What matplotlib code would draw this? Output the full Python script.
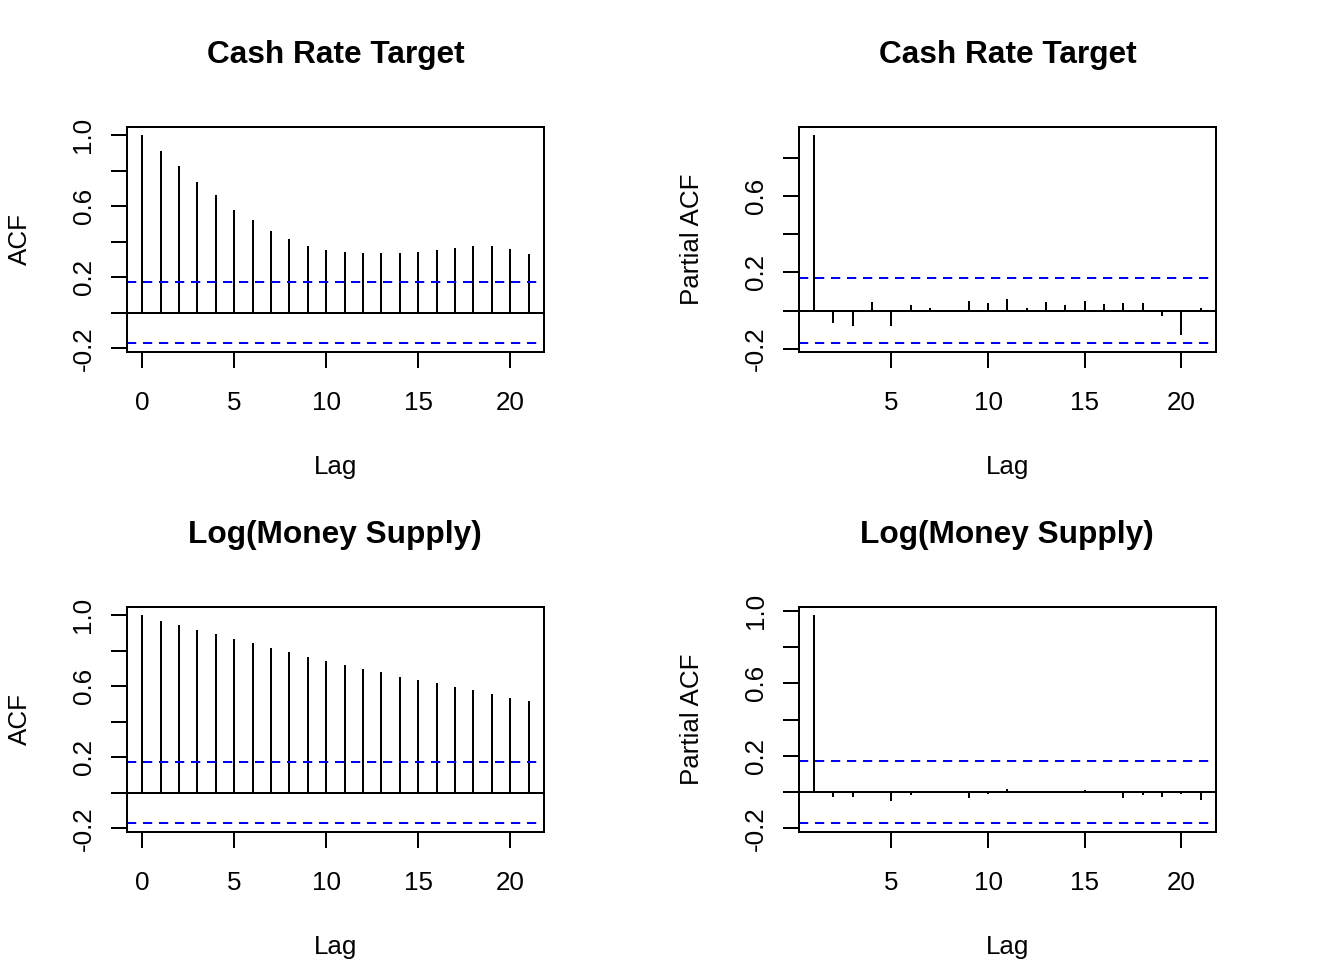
import numpy as np
import matplotlib
matplotlib.use("Agg")
import matplotlib.pyplot as plt

plt.rcParams["font.family"] = ["Liberation Sans", "DejaVu Sans"]

# --- Data ---
acf_lags = np.arange(0, 22)
pacf_lags = np.arange(1, 22)

cash_acf = [1.000, 0.912, 0.828, 0.738, 0.660, 0.581, 0.520, 0.458, 0.413, 0.374, 0.351,
            0.340, 0.335, 0.335, 0.335, 0.340, 0.351, 0.363, 0.374, 0.374, 0.357, 0.329]
cash_pacf = [0.920, -0.063, -0.079, 0.045, -0.079, 0.030, 0.014, 0.002, 0.051, 0.040, 0.061,
             0.014, 0.045, 0.030, 0.051, 0.035, 0.040, 0.040, -0.028, -0.126, 0.014]

money_acf = [1.000, 0.968, 0.946, 0.918, 0.895, 0.867, 0.845, 0.817, 0.794, 0.766, 0.744,
             0.721, 0.699, 0.677, 0.654, 0.632, 0.615, 0.593, 0.576, 0.553, 0.536, 0.514]
money_pacf = [0.976, -0.029, -0.029, 0.001, -0.051, -0.015, 0.001, -0.001, -0.033, -0.011, 0.020,
              0.001, -0.001, 0.001, 0.013, 0.007, -0.033, -0.018, -0.029, -0.011, -0.044]

conf_limit = 0.172

titles = ["Cash Rate Target", "Cash Rate Target", "Log(Money Supply)", "Log(Money Supply)"]
ylabels = ["ACF", "Partial ACF", "ACF", "Partial ACF"]

DPI = 144
W, H = 1344, 960
FS = 13.0
FS_TITLE = 15.8


def pad_range(lo, hi):
    # same 4% stretch as R's default axis range
    d = (hi - lo) * 0.04
    return lo - d, hi + d


def acf_panel(ax, lags, vals, title, ylabel):
    vals = np.asarray(vals)
    ax.vlines(lags, 0, vals, color="black", lw=1.0)
    ax.axhline(0, color="black", lw=1.0)
    for c in (conf_limit, -conf_limit):
        ax.axhline(c, color="blue", lw=1.0, ls=(0, (4.6, 3.4)))

    ax.set_xlim(*pad_range(lags.min(), lags.max()))
    ymin = min(vals.min(), -conf_limit)
    ymax = max(vals.max(), conf_limit)
    y0, y1 = pad_range(ymin, ymax)
    ax.set_ylim(y0, y1)

    xt = [t for t in range(0, 21, 5) if t >= lags.min()]
    ax.set_xticks(xt)
    ax.set_xticklabels([str(t) for t in xt])
    yt = np.round(np.arange(-0.2, y1 + 1e-9, 0.2), 1)
    ax.set_yticks(yt)
    # R drops every other label where they would overlap
    ax.set_yticklabels([f"{t:.1f}" if round(t * 10) in (-2, 2, 6, 10) else "" for t in yt])

    ax.tick_params(axis="both", direction="out", length=8, width=1.0, labelsize=FS)
    ax.tick_params(axis="x", pad=11.5)
    ax.tick_params(axis="y", pad=7.6, labelrotation=90)
    for lab in ax.get_yticklabels():
        lab.set_verticalalignment("center")
    for s in ax.spines.values():
        s.set_linewidth(1.0)

    ax.set_title(title, fontsize=FS_TITLE, fontweight="bold", pad=31.7)
    ax.set_xlabel("Lag", fontsize=FS)
    ax.xaxis.set_label_coords(0.5, -0.459)
    ax.set_ylabel(ylabel, fontsize=FS)
    ax.yaxis.set_label_coords(-0.226, 0.5)


fig = plt.figure(figsize=(W / DPI, H / DPI), dpi=DPI)

# --- Panel boxes (pixel positions from the reference) ---
lefts = [126.7, 798.7, 126.7, 798.7]
bottoms = [351.7, 351.7, 831.7, 831.7]
box_w, box_h = 417.3, 225.0

series = [(acf_lags, cash_acf), (pacf_lags, cash_pacf),
          (acf_lags, money_acf), (pacf_lags, money_pacf)]

for i, (lags, vals) in enumerate(series):
    ax = fig.add_axes([lefts[i] / W, 1 - bottoms[i] / H, box_w / W, box_h / H])
    acf_panel(ax, lags, vals, titles[i], ylabels[i])

fig.savefig("out.png", dpi=DPI)
